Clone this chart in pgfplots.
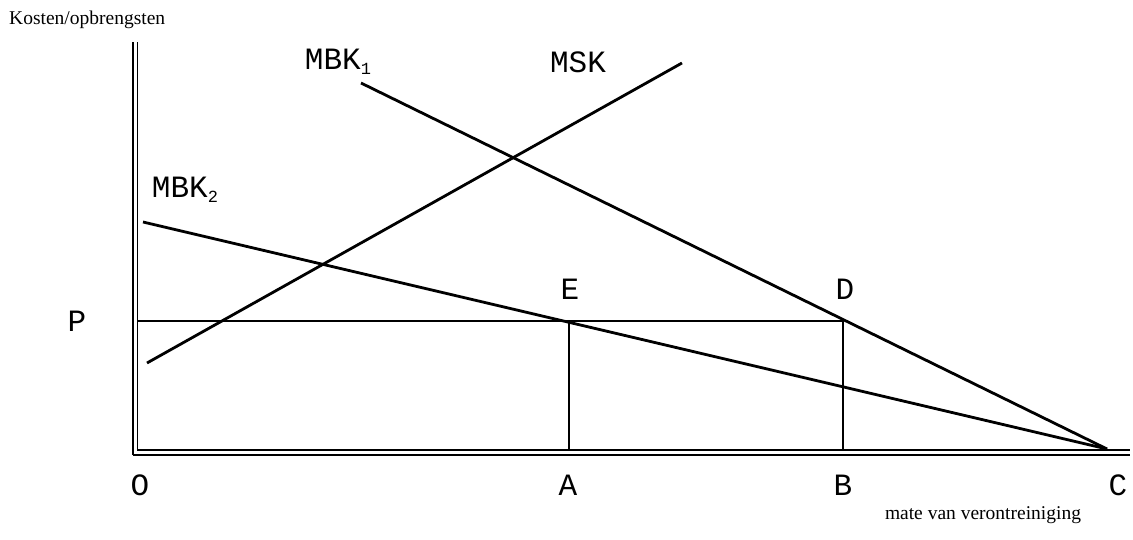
\documentclass[border=0pt]{standalone}
\usepackage{pgfplots}
\pgfplotsset{compat=1.18}
\usepackage{fontspec}
\setmainfont{Liberation Serif}
\newfontfamily\mono{Liberation Mono}
\newcommand{\sub}[1]{\raisebox{-5pt}{\fontsize{17}{17}\selectfont #1}}
\begin{document}
\begin{tikzpicture}
\begin{axis}[width=1133pt, height=539pt, scale only axis,
  xmin=0, xmax=1133, ymin=0, ymax=539, hide axis, clip=false]
% frame for bounding box
\addplot[draw=none] coordinates {(0,0) (1133,539)};
% axes (double lines)
\addplot[black, line width=1.8pt] coordinates {(133,84) (133,497)};
\addplot[black, line width=1.8pt] coordinates {(137.5,88) (137.5,497)};
\addplot[black, line width=1.8pt] coordinates {(133,84) (1130,84)};
\addplot[black, line width=1.8pt] coordinates {(137.5,89) (1130,89)};
% MBK1
\addplot[black, line width=2.8pt] coordinates {(361,456) (1107,90)};
% MSK
\addplot[black, line width=2.8pt] coordinates {(147,176) (682,476)};
% MBK2
\addplot[black, line width=2.8pt] coordinates {(143,317) (1107,90)};
% price line P
\addplot[black, line width=1.5pt] coordinates {(137.5,218) (843,218)};
% verticals
\addplot[black, line width=1.5pt] coordinates {(569,218) (569,89)};
\addplot[black, line width=1.5pt] coordinates {(843,218) (843,89)};
% labels
\node[font=\mono\fontsize{31}{31}\selectfont] at (axis cs:338,477) {MBK\sub{1}};
\node[font=\mono\fontsize{31}{31}\selectfont] at (axis cs:578,477) {MSK};
\node[font=\mono\fontsize{31}{31}\selectfont] at (axis cs:185,349) {MBK\sub{2}};
\node[font=\mono\fontsize{31}{31}\selectfont] at (axis cs:570,250) {E};
\node[font=\mono\fontsize{31}{31}\selectfont] at (axis cs:845,250) {D};
\node[font=\mono\fontsize{31}{31}\selectfont] at (axis cs:77,218) {P};
\node[font=\mono\fontsize{31}{31}\selectfont] at (axis cs:140,54) {O};
\node[font=\mono\fontsize{31}{31}\selectfont] at (axis cs:568,54) {A};
\node[font=\mono\fontsize{31}{31}\selectfont] at (axis cs:843,54) {B};
\node[font=\mono\fontsize{31}{31}\selectfont] at (axis cs:1118,54) {C};
\node[font=\fontsize{19.5}{19.5}\selectfont, anchor=west, inner sep=0pt] at (axis cs:9,519) {Kosten/opbrengsten};
\node[font=\fontsize{19.5}{19.5}\selectfont] at (axis cs:983,24) {mate van verontreiniging};
\end{axis}
\end{tikzpicture}
\end{document}
